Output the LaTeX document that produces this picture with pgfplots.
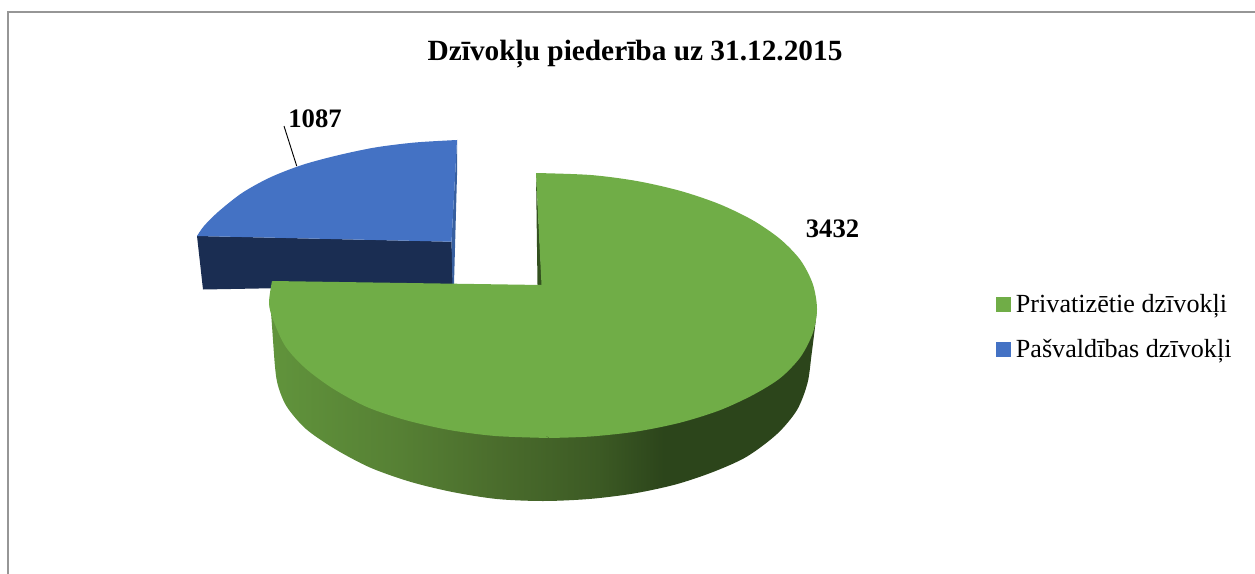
\documentclass[border=0pt]{standalone}
\usepackage{pgfplots}
\pgfplotsset{compat=1.18}
\usepackage{fontspec}
\setmainfont{Liberation Serif}
\definecolor{grn}{HTML}{70AD47}
\definecolor{blu}{HTML}{4472C4}
\definecolor{navy}{HTML}{1A2D52}
\definecolor{sliverb}{HTML}{375F9F}
\definecolor{sliverg}{HTML}{33511F}
\definecolor{frame}{HTML}{969696}
\definecolor{gA}{RGB}{97,148,60}
\definecolor{gB}{RGB}{86,128,52}
\definecolor{gC}{RGB}{74,108,44}
\definecolor{gD}{RGB}{60,90,36}
\definecolor{gE}{RGB}{44,69,27}
\pgfdeclarehorizontalshading{greenside}{100bp}{
  color(0bp)=(gA);
  color(25bp)=(gA);
  color(37bp)=(gB);
  color(46bp)=(gC);
  color(55bp)=(gD);
  color(61bp)=(gE);
  color(75bp)=(gE);
  color(100bp)=(gE)}
\begin{document}
\begin{tikzpicture}
\path[use as bounding box] (0,0) rectangle (941.25pt,430.5pt);
\begin{axis}[
  scale only axis, width=941.25pt, height=430.5pt,
  xmin=0, xmax=1255, ymin=0, ymax=574, y dir=reverse,
  hide axis, clip=false,
  title={\bfseries Dzīvokļu piederība uz 31.12.2015},
  title style={at={(0.5060,0.892)},anchor=center,font=\fontsize{22}{26}\selectfont},
  legend style={at={(axis cs:996,291)},anchor=north west,draw=none,fill=none,
    font=\fontsize{19.6}{23}\selectfont,row sep=15pt,inner sep=0pt,
    /tikz/every odd column/.append style={column sep=2.25pt}},
  legend cell align=left,
]
% legend keys
\addlegendimage{only marks,grn,mark=square*,mark size=5.25pt,mark options={fill=grn,draw=grn}}
\addlegendentry{Privatizētie dzīvokļi}
\addlegendimage{only marks,blu,mark=square*,mark size=5.25pt,mark options={fill=blu,draw=blu}}
\addlegendentry{Pašvaldības dzīvokļi}
% frame
\addplot[forget plot,frame,line width=1.1pt] coordinates {(8,574) (8,12) (1255,12)};
% blue slice
\addplot[forget plot,draw=none,fill=navy] coordinates {(197,236) (203,289.5) (453,285) (451.5,241.7)} --cycle;
\addplot[forget plot,draw=none,fill=sliverb] coordinates {(457,140) (457,175) (454,284) (452.5,284) (451.5,241.7)} --cycle;
\addplot[forget plot,draw=none,fill=blu,smooth] coordinates {(457,140) (415,142.5) (375,147.5) (337,155.5) (302,165) (270,177.5) (242,193) (218,212) (204,226) (197,236)} --cycle;
\addplot[forget plot,draw=none,fill=blu] coordinates {(457,140) (320,163) (197,236) (451.5,241.7)} --cycle;
% leader
\addplot[forget plot,black,line width=0.7pt] coordinates {(284,126) (296.7,166)};
% green side
\addplot[forget plot,draw=none,shading=greenside,smooth] coordinates {(817,309) (815,327) (811.5,355) (807.5,383) (797,410) (777,434) (746.7,456.7) (713,472) (675.5,484.5) (633.6,493.5) (589,499) (543,501) (497,499) (452.4,492) (410,481.7) (370,467.5) (335,449) (306,429) (287,407) (278.3,386.7) (275,366.7) (271,313) (269,305.5)} --cycle;
% green inner sliver
\addplot[forget plot,draw=none,fill=sliverg] coordinates {(536,173) (537.5,285) (542,285)} --cycle;
% green top: two arc pieces and the part round the centre
\addplot[forget plot,draw=none,fill=grn,smooth] coordinates {(536,173) (590.6,175) (636.7,181) (680,190.8) (719.1,204) (752.9,220.3) (780.3,239.2) (800.5,260.2) (812.8,284) (817,309) (812.8,333) (800.5,357) (780.3,378) (752.9,395) (719.1,410.5) (680,422.7) (636.7,431.5) (590.6,436.5) (549,438)} --cycle;
\addplot[forget plot,draw=none,fill=grn,smooth] coordinates {(549,438) (495.4,436) (449.3,430) (406,420.2) (366.9,407) (333.1,388.7) (305.7,368.5) (285.5,346.5) (273.2,320) (269,303) (272,281)} --cycle;
\addplot[forget plot,draw=none,fill=grn] coordinates {(272,281) (541.5,285) (600,300) (549,437) (400,400)} --cycle;
% data labels
\addplot[forget plot,draw=none,mark=none,point meta=explicit symbolic,
  nodes near coords,nodes near coords style={anchor=center,font=\fontsize{20}{24}\selectfont\bfseries,text=black}]
  coordinates {(315,118.5)[1087] (832.5,229)[3432]};
\end{axis}
\end{tikzpicture}
\end{document}
